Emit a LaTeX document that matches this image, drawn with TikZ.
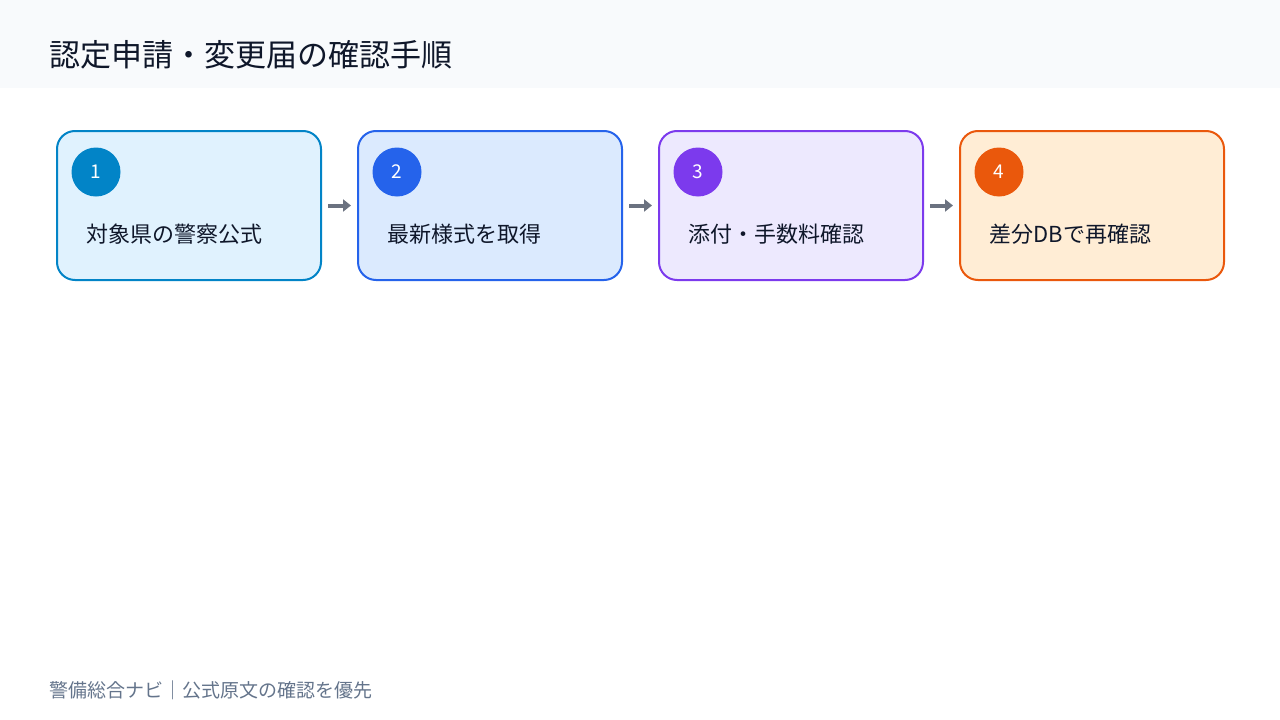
\documentclass[tikz,border=0pt]{standalone}
\usepackage{fontspec}
\setmainfont{Noto Sans CJK JP}
\usetikzlibrary{positioning,arrows.meta}
\definecolor{headbg}{HTML}{F8FAFC}
\definecolor{titlec}{HTML}{0F172A}
\definecolor{footc}{HTML}{64748B}
\definecolor{arrowc}{HTML}{6B7280}
\definecolor{lineA}{HTML}{0284C7}\definecolor{fillA}{HTML}{E0F2FE}
\definecolor{lineB}{HTML}{2563EB}\definecolor{fillB}{HTML}{DBEAFE}
\definecolor{lineC}{HTML}{7C3AED}\definecolor{fillC}{HTML}{EDE9FE}
\definecolor{lineD}{HTML}{EA580C}\definecolor{fillD}{HTML}{FFEDD5}

\begin{document}
\begin{tikzpicture}[x=1pt,y=1pt]
        \tikzstyle{stepbox}=[draw, line width=2pt, rounded corners=18pt, minimum width=264pt, minimum height=149pt, inner sep=0pt]
        \tikzstyle{badge}=[circle, minimum size=49pt, inner sep=0pt, text=white, font=\fontsize{19}{19}\selectfont]
        \tikzstyle{steptext}=[anchor=west, text=titlec, font=\fontsize{22}{22}\selectfont]
        \tikzstyle{link}=[-{Triangle[length=8pt,width=12pt]}, draw=arrowc, line width=4pt]

        \useasboundingbox (0,0) rectangle (1280,-720);
        % Header band
        \fill[headbg] (0,0) rectangle (1280,-88);
        \node[anchor=west, text=titlec, font=\fontsize{31}{31}\selectfont] (title) at (46,-55) {認定申請・変更届の確認手順};

        % Draw the steps
        \foreach \name / \x / \c / \txt in {1/189/A/対象県の警察公式, 2/490/B/最新様式を取得, 3/791/C/添付・手数料確認, 4/1092/D/差分DBで再確認}
        {
            \node[stepbox, draw=line\c, fill=fill\c] (S-\name) at (\x,-205.5) {};
            \node[badge, fill=line\c] (B-\name) at (\x-93,-172) {\name};
            \node[steptext] (L-\name) at (\x-106,-234) {\txt};
        }

        % Connect the steps
        \foreach \source / \dest in {1/2,2/3,3/4}
            \draw[link] ([xshift=6pt]S-\source.east) -- ([xshift=-6pt]S-\dest.west);

        % Footer
        \node[anchor=west, text=footc, font=\fontsize{19}{19}\selectfont] (foot) at (46,-690) {警備総合ナビ｜公式原文の確認を優先};
\end{tikzpicture}
\end{document}
